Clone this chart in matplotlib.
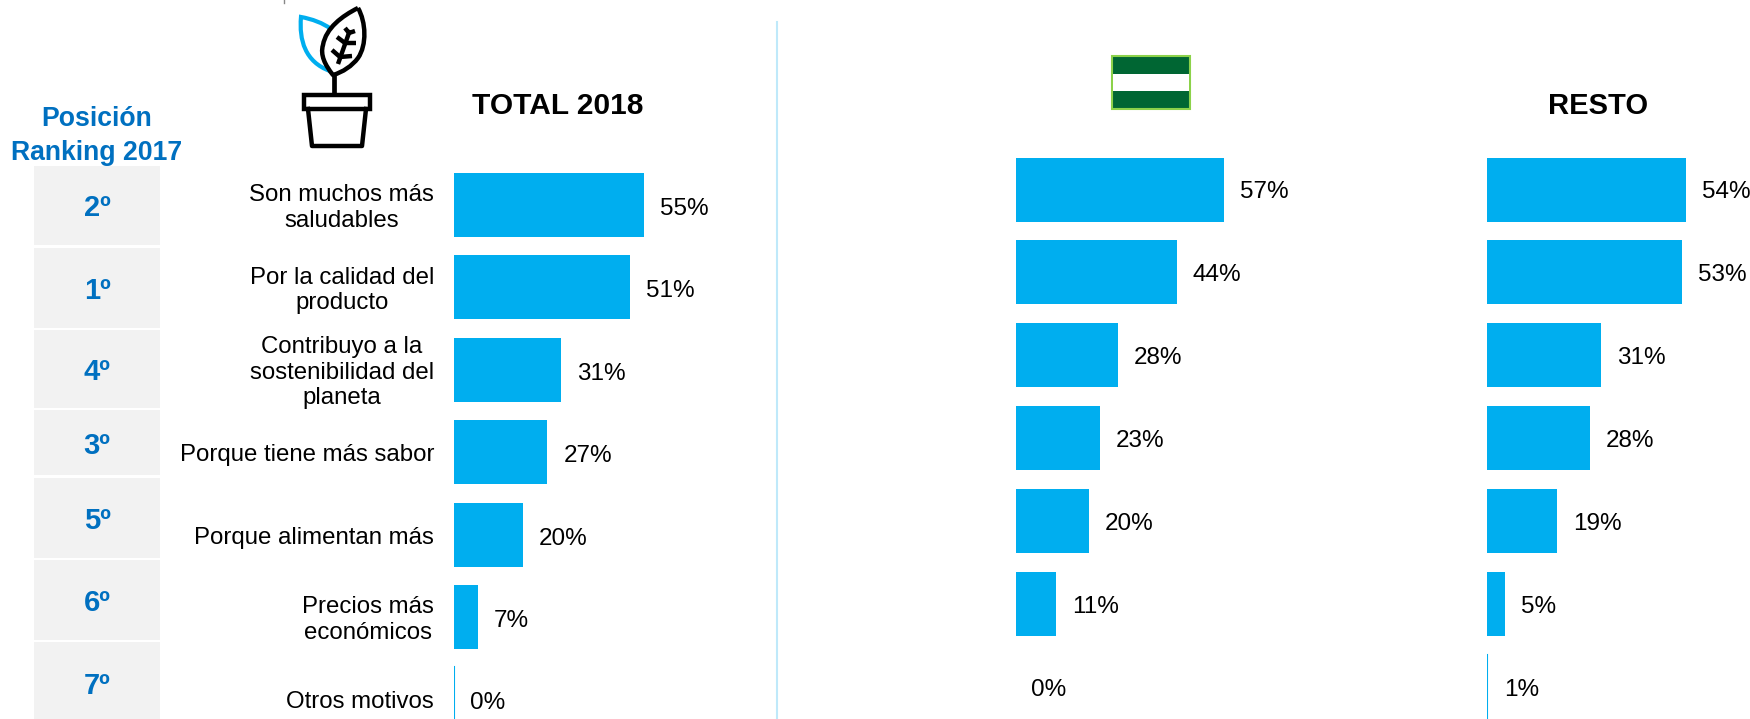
import matplotlib
matplotlib.use("Agg")
import matplotlib.pyplot as plt
from matplotlib.patches import Rectangle, PathPatch
from matplotlib.path import Path

plt.rcParams['font.family'] = ['Liberation Sans', 'DejaVu Sans']

labels = ["Son muchos más\nsaludables", "Por la calidad del\nproducto",
          "Contribuyo a la\nsostenibilidad del\nplaneta", "Porque tiene más sabor",
          "Porque alimentan más", "Precios más\neconómicos", "Otros motivos"]
ranks = ["2º", "1º", "4º", "3º", "5º", "6º", "7º"]
total_2018 = [55, 51, 31, 27, 20, 7, 0]
andalucia = [57, 44, 28, 23, 20, 11, 0]
resto = [54, 53, 31, 28, 19, 5, 1]

W, H = 1750, 719
BLUE = "#00AEEF"
RANK_BLUE = "#0070C0"

fig = plt.figure(figsize=(W / 100, H / 100), dpi=100)

# overlay in pixel coords for everything that is not a bar
bg = fig.add_axes([0, 0, 1, 1])
bg.set_xlim(0, W)
bg.set_ylim(H, 0)
bg.axis("off")


def bar_panel(values, x0, px_per_pct, top, pitch, dy):
    # one axes per panel, x in percent, y in pixels
    ax = fig.add_axes([x0 / W, 0, (W - x0) / W, 1])
    ax.set_xlim(0, (W - x0) / px_per_pct)
    ax.set_ylim(H, 0)
    ax.axis("off")
    ax.patch.set_alpha(0)
    ys = [top + 32 + i * pitch for i in range(len(values))]
    bars = ax.barh(ys, values, height=64, color=BLUE, edgecolor="none")
    for y, v, b in zip(ys, values, bars):
        # the small ones are just a thin line in the original
        if (v == 0 and x0 < 1000) or v == 1:
            b.set_visible(False)
            ax.plot([0, 0], [y - 32, y + 32], color=BLUE, lw=1.5)
        off = 13 if v == 1 else 16
        ax.annotate(f"{v}%", (v, y), xytext=(off, dy),
                    textcoords="offset pixels", va="center", ha="left",
                    fontsize=17.5, color="black", annotation_clip=False)
    return ys


ys1 = bar_panel(total_2018, 454, 3.46, 173, 82.4, -4)
bar_panel(andalucia, 1015.5, 3.66, 157.5, 82.9, -3)
bar_panel(resto, 1487, 3.68, 157.5, 82.9, -3)

# ranking boxes
box_tops = [166, 248, 330, 410, 478, 560, 642]
box_bottoms = [245, 328, 408, 475, 558, 640, 725]
for t, b, r in zip(box_tops, box_bottoms, ranks):
    bg.add_patch(Rectangle((34, t), 126, b - t, fc="#F2F2F2", ec="none"))
    bg.text(97, (t + b) / 2 + 3, r, color=RANK_BLUE, fontsize=21, fontweight="bold",
            ha="center", va="center")

for y, lab in zip(ys1, labels):
    bg.text(434, y + 3, lab, ha="right", va="center", fontsize=17.3,
            multialignment="center", linespacing=1.2)

bg.text(97, 136, "Posición\nRanking 2017", color=RANK_BLUE, fontsize=19.2, fontweight="bold",
        ha="center", va="center", linespacing=1.35)
bg.text(558, 106, "TOTAL 2018", fontsize=21.5, fontweight="bold", ha="center", va="center")
bg.text(1598, 106, "RESTO", fontsize=21, fontweight="bold", ha="center", va="center")

# divider
bg.plot([777, 777], [22, H], color="#BFE9FA", lw=1.5)
bg.plot([284, 284], [0, 3], color="#888888", lw=1)

# flag
bg.add_patch(Rectangle((1112, 56), 78, 53, fc="#006633", ec="#8CD24A", lw=1.5))
bg.add_patch(Rectangle((1113, 74), 76, 17, fc="white", ec="none"))

# plant icon
back_leaf = Path([(331, 29), (323, 23), (312, 19), (301, 17), (299, 40), (305, 62), (330, 71)],
                 [1, 4, 4, 4, 4, 4, 4])
bg.add_patch(PathPatch(back_leaf, fc="none", ec=BLUE, lw=3))
leaf = Path([(358, 8), (366, 22), (367, 45), (358, 58), (352, 66), (343, 72), (333, 75),
             (325, 65), (320, 55), (323, 45), (326, 28), (342, 16), (358, 8)],
            [1, 4, 4, 4, 4, 4, 4, 4, 4, 4, 4, 4, 4])
bg.add_patch(PathPatch(leaf, fc="white", ec="black", lw=3.2, joinstyle="round"))
veins = [((338, 64), (350, 30)), ((332, 50), (340, 57)), ((340, 57), (352, 56)),
         ((337, 37), (345, 43)), ((345, 43), (356, 43)), ((345, 28), (349, 33)), ((349, 33), (355, 31))]
for a, b in veins:
    bg.plot([a[0], b[0]], [a[1], b[1]], color="black", lw=3.2, solid_capstyle="butt")
bg.plot([334, 334], [75, 95], color="black", lw=3.4, solid_capstyle="butt")
bg.add_patch(Rectangle((304, 95), 66, 14, fc="none", ec="black", lw=3.2))
bg.plot([308, 312, 362, 366], [109, 146, 146, 109], color="black", lw=3.2)

fig.savefig("out.png", dpi=100)
